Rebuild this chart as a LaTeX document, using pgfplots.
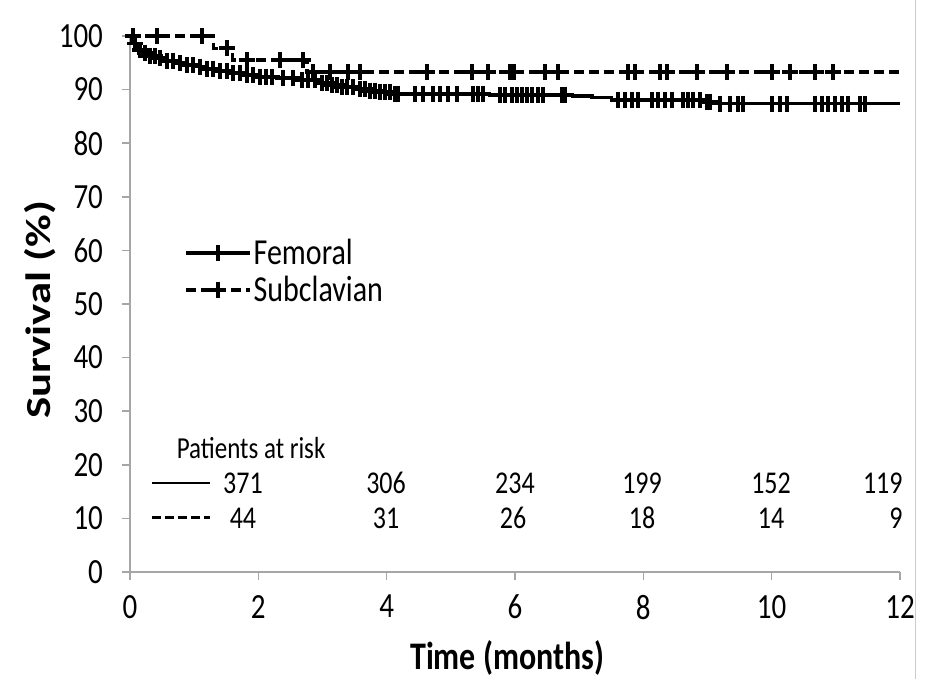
\documentclass[border=0pt]{standalone}
\usepackage{fontspec}
\setmainfont{Carlito}
\usepackage{graphicx}
\usepackage{pgfplots}
\pgfplotsset{compat=1.18}
\newcommand{\vs}[1]{\scalebox{1}[1.22]{#1}}
\begin{document}
\begin{tikzpicture}
\useasboundingbox (0,0) rectangle (463.5pt,339.5pt);
\begin{axis}[
  at={(65pt,53.5pt)}, anchor=south west,
  scale only axis, width=385pt, height=268pt,
  xmin=0, xmax=12, ymin=0, ymax=100,
  axis x line=bottom, axis y line=left,
  axis line style={-, draw=gray!70, line width=0.8pt},
  xtick={0,2,...,12}, ytick={0,10,...,100},
  tick align=outside, tick style={gray!70, line width=0.8pt},
  major tick length=4pt,
  every tick label/.append style={font=\fontsize{14.5}{16}\selectfont, text=black},
  /pgf/number format/assume math mode=true,
  xticklabel={\vs{\pgfmathprintnumber{\tick}}},
  yticklabel={\vs{\pgfmathprintnumber{\tick}}},
  xticklabel style={yshift=-4pt},
  yticklabel style={xshift=-6pt},
  xlabel={\vs{Time (months)}},
  ylabel={\scalebox{1.12}[0.88]{Survival (\%)}},
  xlabel style={font=\fontsize{16}{18}\selectfont\bfseries, at={(axis description cs:0.49,-0.160)}, anchor=center},
  ylabel style={font=\fontsize{20}{22}\selectfont\bfseries, at={(axis description cs:-0.117,0.489)}, anchor=center},
  clip=false,
  legend style={at={(axis cs:0.84,62.6)}, anchor=north west, draw=none, fill=none,
    font=\fontsize{15}{17}\selectfont, row sep=2.2pt, inner sep=0pt,
    nodes={inner sep=1pt}},
  legend cell align=left,
  legend image code/.code={\draw[mark repeat=2,mark phase=2,#1] plot coordinates {(0pt,0pt) (16pt,0pt) (32pt,0pt)};},
]
% Femoral curve
\addplot[const plot, black, line width=1.7pt, forget plot] coordinates {
(0,100) (0.03,99.2) (0.06,98.6) (0.1,98.0) (0.15,97.4) (0.22,96.8) (0.3,96.3)
(0.4,95.9) (0.55,95.4) (0.7,95.0) (0.85,94.6) (1.0,94.3) (1.2,93.9) (1.4,93.5)
(1.6,93.1) (1.8,92.7) (2.0,92.4) (2.3,92.1) (2.6,91.8) (2.9,91.3) (3.1,90.9)
(3.3,90.5) (3.5,90.1) (3.7,89.8) (3.9,89.5) (4.1,89.2) (5.6,89.0) (6.9,88.8)
(7.2,88.5) (7.5,88.1) (8.95,87.7) (9.05,87.4) (12,87.4)};
% Femoral censored
\addplot[only marks, mark=+, mark size=4pt, mark options={line width=1.9pt}, black, forget plot] coordinates {
(0.08,98.6) (0.16,97.4) (0.23,96.8) (0.31,96.3) (0.39,96.3) (0.47,95.9) (0.58,95.4)
(0.67,95.4) (0.78,95.0) (0.89,94.6) (0.98,94.6) (1.09,94.3) (1.20,93.9) (1.29,93.9)
(1.40,93.5) (1.51,93.5) (1.61,93.1) (1.71,93.1) (1.82,92.7) (1.92,92.7) (2.03,92.4)
(2.12,92.4) (2.21,92.4) (2.38,92.1) (2.54,92.1) (2.68,91.8) (2.77,91.8) (2.88,91.8)
(2.99,91.3) (3.07,91.3) (3.15,90.9) (3.23,90.9) (3.30,90.5) (3.38,90.5) (3.48,90.5)
(3.58,90.1) (3.66,90.1) (3.74,89.8) (3.82,89.8) (3.90,89.5) (3.97,89.5) (4.05,89.5)
(4.13,89.2) (4.18,89.2) (4.44,89.2) (4.57,89.2) (4.72,89.2) (4.83,89.2) (4.96,89.2)
(5.10,89.2) (5.35,89.2) (5.42,89.2) (5.50,89.2) (5.77,89.0) (5.84,89.0) (5.95,89.0)
(6.03,89.0) (6.11,89.0) (6.19,89.0) (6.26,89.0) (6.36,89.0) (6.44,89.0) (6.73,89.0)
(6.78,89.0) (7.60,88.1) (7.71,88.1) (7.82,88.1) (7.92,88.1) (8.13,88.1) (8.23,88.1)
(8.34,88.1) (8.45,88.1) (8.62,88.1) (8.70,88.1) (8.77,88.1) (8.88,88.1) (8.99,87.7)
(9.04,87.7) (9.19,87.4) (9.35,87.4) (9.47,87.4) (9.55,87.4) (10.00,87.4) (10.13,87.4)
(10.24,87.4) (10.67,87.4) (10.78,87.4) (10.88,87.4) (10.99,87.4) (11.10,87.4)
(11.19,87.4) (11.38,87.4) (11.45,87.4)};
% Subclavian curve
\addplot[const plot, black, line width=1.7pt, dash pattern=on 5pt off 2.5pt, forget plot] coordinates {
(0,100) (1.3,97.7) (1.6,95.5) (2.76,93.3) (12,93.3)};
% Subclavian censored
\addplot[only marks, mark=+, mark size=4pt, mark options={line width=1.9pt, solid}, black, forget plot] coordinates {
(0.05,100) (0.42,100) (1.12,100) (1.51,97.7) (1.82,95.5) (2.34,95.5) (2.70,95.5)
(2.85,93.3) (3.12,93.3) (3.40,93.3) (3.58,93.3) (4.63,93.3) (5.33,93.3) (5.58,93.3)
(5.92,93.3) (5.98,93.3) (6.47,93.3) (6.67,93.3) (7.76,93.3) (7.87,93.3) (8.26,93.3)
(8.37,93.3) (8.84,93.3) (9.30,93.3) (10.00,93.3) (10.29,93.3) (10.67,93.3) (10.96,93.3)};
% legend
\addlegendimage{black, line width=1.7pt, mark=+, mark size=4pt, mark options={line width=1.9pt}}
\addlegendentry{\vs{Femoral}}
\addlegendimage{black, line width=1.7pt, dash pattern=on 5pt off 2.5pt, mark=+, mark size=4pt, mark options={line width=1.9pt, solid}}
\addlegendentry{\vs{Subclavian}}
% patients at risk
\node[anchor=west, font=\fontsize{12.5}{14}\selectfont] at (axis cs:0.62,23.1) {\vs{Patients at risk}};
\draw[black, line width=1.4pt] (axis cs:0.34,16.6) -- (axis cs:1.25,16.6);
\draw[black, line width=1.4pt, dash pattern=on 4.5pt off 2pt] (axis cs:0.34,10.1) -- (axis cs:1.25,10.1);
\begin{scope}[every node/.style={font=\fontsize{13}{15}\selectfont}]
\node at (axis cs:1.76,16.6) {\vs{371}};
\node at (axis cs:3.99,16.6) {\vs{306}};
\node at (axis cs:6.0,16.6) {\vs{234}};
\node at (axis cs:7.98,16.6) {\vs{199}};
\node at (axis cs:9.99,16.6) {\vs{152}};
\node[anchor=east] at (axis cs:12.15,16.6) {\vs{119}};
\node at (axis cs:1.76,10.1) {\vs{44}};
\node at (axis cs:3.99,10.1) {\vs{31}};
\node at (axis cs:5.97,10.1) {\vs{26}};
\node at (axis cs:7.98,10.1) {\vs{18}};
\node at (axis cs:9.99,10.1) {\vs{14}};
\node[anchor=east] at (axis cs:12.15,10.1) {\vs{9}};
\end{scope}
\end{axis}
\draw[gray!40, line width=0.5pt] (457.5pt,0) -- (457.5pt,339.5pt);
\end{tikzpicture}
\end{document}
